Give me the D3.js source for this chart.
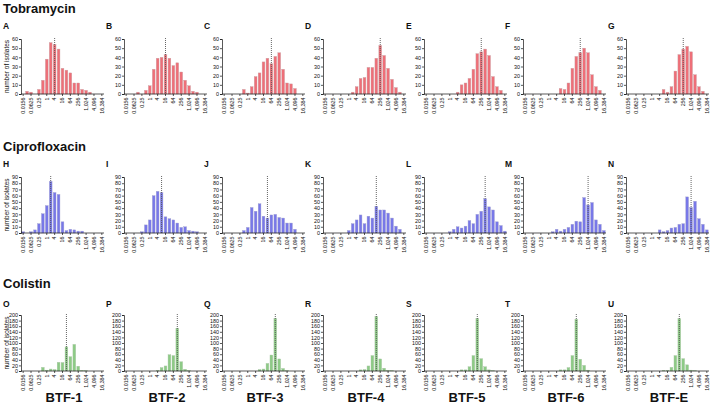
<!DOCTYPE html>
<html>
<head>
<meta charset="utf-8">
<script src="https://cdn.jsdelivr.net/npm/d3@7/dist/d3.min.js"></script>
<style>
  html, body { margin: 0; padding: 0; background: #fff; }
  svg { display: block; font-family: "Liberation Sans", Arial, Helvetica, sans-serif; }
</style>
</head>
<body>
<svg id="chart" width="712" height="414"></svg>
<script>
// ---------- DATA ----------
const binLabels = ["0.0156","0.0313","0.0625","0.125","0.25","0.5","1","2","4","8","16","32","64","128","256","512","1,024","2,048","4,096","8,192","16,384"];
const tickLabelIdx = [0,2,4,6,8,10,12,14,16,18,20];
const columnLabels = ["BTF-1","BTF-2","BTF-3","BTF-4","BTF-5","BTF-6","BTF-E"];
const drugNames = ["Tobramycin","Ciprofloxacin","Colistin"];
const panelLetters = [["A","B","C","D","E","F","G"],["H","I","J","K","L","M","N"],["O","P","Q","R","S","T","U"]];

const tobramycinCounts = [
  [0,3,2,0,5,15,38,56,54,49,28,26,23,12,12,5,4,2,0,0,0],
  [0,0,0,2,0,4,9,27,39,40,43,39,31,34,24,15,9,3,2,0,0],
  [0,0,0,0,0,5,1,8,19,23,35,39,33,41,45,27,12,11,6,0,0],
  [0,0,0,0,0,0,0,2,8,17,18,29,29,39,53,42,28,16,7,2,0],
  [0,0,0,0,0,0,0,0,2,10,12,17,27,44,46,49,42,19,8,4,0],
  [0,0,0,0,0,0,0,0,0,6,5,12,28,41,45,50,45,21,8,4,0],
  [0,0,0,0,0,0,0,0,0,5,2,8,25,43,49,52,46,21,8,3,0]
];
const ciprofloxacinCounts = [
  [2,0,2,5,15,31,44,83,65,62,18,4,6,5,3,3,0,0,0,0,0],
  [0,0,0,0,2,13,21,60,67,65,26,23,21,16,9,10,4,3,2,0,0],
  [0,0,0,0,0,4,9,41,35,47,27,24,29,30,25,24,16,16,6,0,0],
  [0,0,0,0,0,0,4,15,21,29,15,27,24,43,37,37,32,24,11,6,0],
  [0,0,0,0,0,0,2,6,10,8,11,20,15,30,35,55,42,37,18,12,3],
  [0,0,0,0,0,0,0,2,6,3,6,9,14,19,18,57,45,49,21,14,4],
  [0,0,0,0,0,0,0,0,5,2,4,8,9,14,15,58,41,51,23,14,5]
];
const colistinCounts = [
  [0,0,0,0,0,13,3,7,5,31,30,86,51,95,17,2,1,0,0,0,0],
  [0,0,0,0,0,0,0,0,2,12,18,58,55,153,33,6,1,0,0,0,0],
  [0,0,0,0,0,0,0,0,0,5,7,27,57,188,43,9,1,0,0,0,0],
  [0,0,0,0,0,0,0,0,0,4,5,18,55,195,43,10,2,1,0,0,0],
  [0,0,0,0,0,0,0,0,0,4,4,15,55,188,44,15,4,1,0,0,0],
  [0,0,0,0,0,0,0,0,0,4,4,12,55,185,42,20,3,0,0,0,0],
  [0,0,0,0,0,0,0,0,0,2,2,13,55,187,44,22,3,1,0,0,0]
];
// median bin (as label) for each panel
const tobramycinMedian = ["4","16","64","256","256","256","256"];
const ciprofloxacinMedian = ["2","8","32","128","512","1,024","1,024"];
const colistinMedian = ["32","128","128","128","128","128","128"];
const yMax = [60, 90, 200];
const yStep = [10, 10, 20];

// ---------- LAYOUT ----------
const svg = d3.select("#chart");
const colX = [21, 124, 222, 323, 424, 523, 626];
const plotW = 83;
const rows = [
  {top: 39, bottom: 94, titleY: 13, letterY: 29},
  {top: 177, bottom: 233, titleY: 151, letterY: 167},
  {top: 315, bottom: 371, titleY: 288, letterY: 307}
];
const colors = ["#ee6f78", "#7878e8", "#8dcb86"];
const strokes = ["#c9a0a3", "#a3a3cf", "#a8c4a4"];
const allCounts = [tobramycinCounts, ciprofloxacinCounts, colistinCounts];
const allMedians = [tobramycinMedian, ciprofloxacinMedian, colistinMedian];

rows.forEach((r, ri) => {
  svg.append("text").attr("x", 3).attr("y", r.titleY)
    .attr("font-size", 13).attr("font-weight", "bold").attr("fill", "#111")
    .text(drugNames[ri]);

  const y = d3.scaleLinear().domain([0, yMax[ri]]).range([r.bottom, r.top]);

  colX.forEach((x0, ci) => {
    const x = d3.scaleBand().domain(d3.range(binLabels.length))
      .range([x0, x0 + plotW]).paddingInner(0.3).paddingOuter(0.2);
    const g = svg.append("g");
    const data = allCounts[ri][ci];

    g.append("text").attr("x", x0 - 18).attr("y", r.letterY)
      .attr("font-size", 8.5).attr("font-weight", "bold").attr("fill", "#111")
      .text(panelLetters[ri][ci]);

    // bars
    g.selectAll("rect.bar").data(data).join("rect")
      .attr("class", "bar")
      .attr("x", (d, i) => x(i))
      .attr("width", x.bandwidth())
      .attr("y", d => y(d))
      .attr("height", d => y(0) - y(d))
      .attr("fill", colors[ri])
      .attr("stroke", strokes[ri])
      .attr("stroke-width", 0.4);

    // median dotted line
    const mi = binLabels.indexOf(allMedians[ri][ci]);
    g.append("line")
      .attr("x1", x(mi) + x.bandwidth() / 2).attr("x2", x(mi) + x.bandwidth() / 2)
      .attr("y1", r.top - 1).attr("y2", r.bottom)
      .attr("stroke", "#555").attr("stroke-width", 0.9)
      .attr("stroke-dasharray", "1,1");

    // y axis
    const ya = g.append("g").attr("transform", `translate(${x0},0)`)
      .call(d3.axisLeft(y).tickValues(d3.range(0, yMax[ri] + 1, yStep[ri])).tickSize(2).tickPadding(1));
    ya.selectAll("text").attr("font-size", 5.4).attr("fill", "#111");
    ya.selectAll("line, path").attr("stroke", "#111").attr("stroke-width", 0.7);

    // x axis
    const xa = g.append("g").attr("transform", `translate(0,${r.bottom})`)
      .call(d3.axisBottom(x).tickValues(tickLabelIdx).tickFormat(i => binLabels[i]).tickSize(2).tickSizeOuter(0));
    xa.select("path").attr("d", `M${x0},0H${x0 + plotW}`);
    xa.selectAll("line, path").attr("stroke", "#111").attr("stroke-width", 0.7);
    xa.selectAll("text")
      .attr("font-size", 5.3).attr("fill", "#111")
      .attr("text-anchor", "end")
      .attr("transform", "rotate(-90)")
      .attr("x", -3.5).attr("y", 0).attr("dy", "0.35em");

    if (ci === 0) {
      g.append("text")
        .attr("transform", `translate(9,${(r.top + r.bottom) / 2}) rotate(-90)`)
        .attr("text-anchor", "middle").attr("font-size", 6.5).attr("fill", "#111")
        .text("number of isolates");
    }
    if (ri === 2) {
      g.append("text").attr("x", x0 + 43).attr("y", 402)
        .attr("text-anchor", "middle").attr("font-size", 13).attr("font-weight", "bold").attr("fill", "#111")
        .text(columnLabels[ci]);
    }
  });
});
</script>
</body>
</html>
